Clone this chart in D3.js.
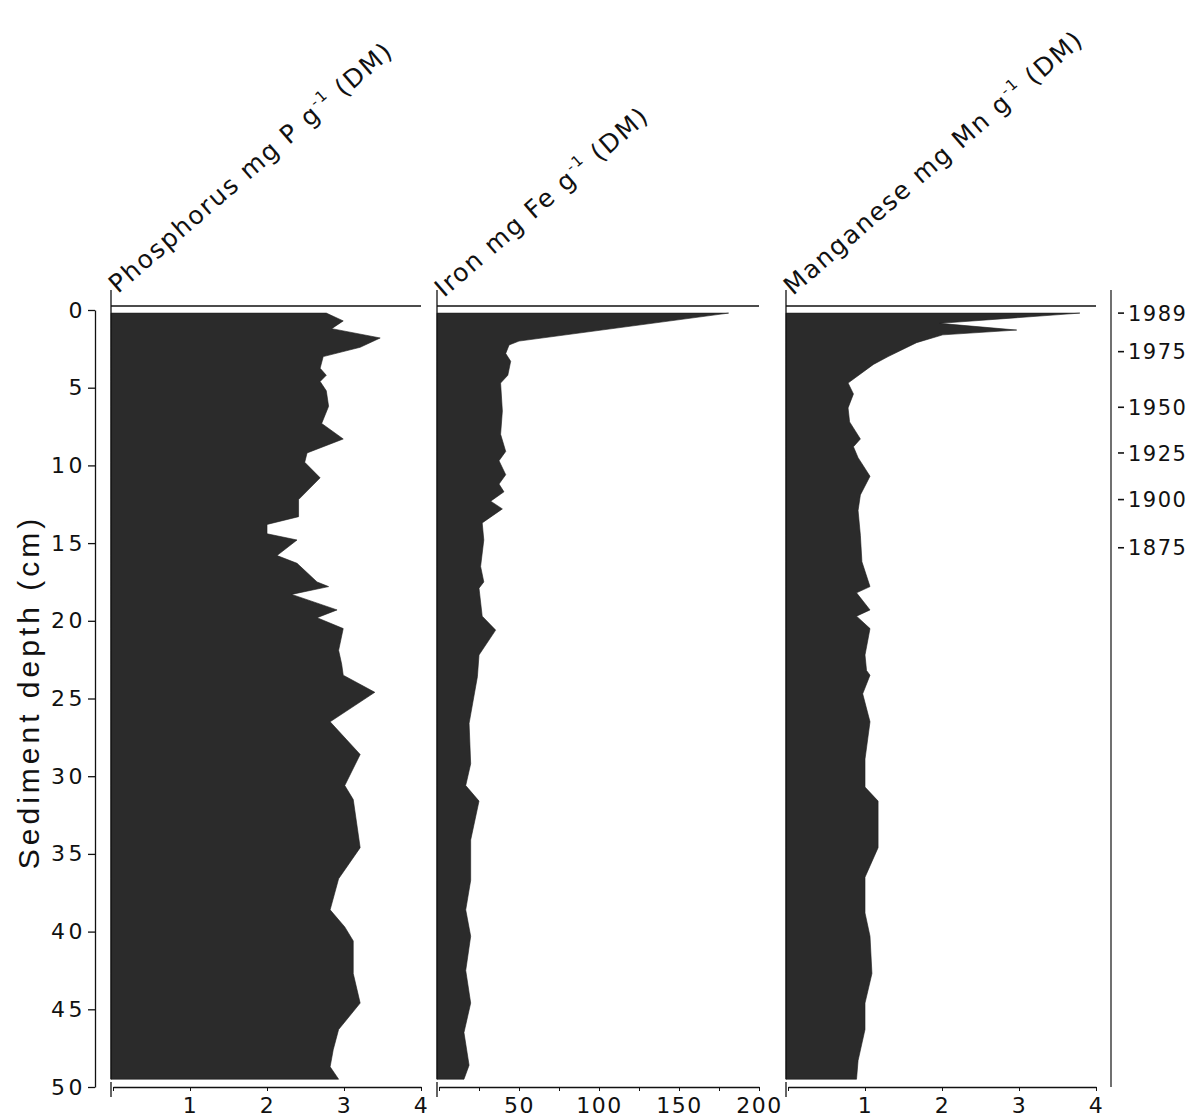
<!DOCTYPE html>
<html>
<head>
<meta charset="utf-8">
<script src="https://cdnjs.cloudflare.com/ajax/libs/d3/7.8.5/d3.min.js"></script>
<style>
  body { margin: 0; background: #fff; }
  svg { display: block; }
  .tick text { font-family: "DejaVu Sans", sans-serif; fill: #111; }
</style>
</head>
<body>
<div id="chart"></div>
<script>
const pDepth = [0.2, 0.7, 1.2, 1.8, 2.4, 3.0, 3.75, 4.2, 4.6, 5.2, 6.2, 7.3, 8.3, 9.2, 9.8, 10.8, 12.2, 13.3, 13.8, 14.4, 14.8, 15.8, 16.3, 17.5, 17.8, 18.3, 19.3, 19.8, 20.5, 21.9, 22.8, 23.5, 24.6, 26.5, 28.6, 30.6, 31.5, 34.6, 36.6, 38.6, 39.7, 40.6, 42.7, 44.6, 46.3, 47.6, 48.7, 49.5];
const pValue = [2.77, 2.99, 2.84, 3.47, 3.21, 2.73, 2.69, 2.77, 2.69, 2.77, 2.80, 2.71, 2.99, 2.52, 2.49, 2.69, 2.41, 2.41, 2.00, 2.00, 2.39, 2.13, 2.39, 2.65, 2.80, 2.32, 2.91, 2.65, 2.99, 2.93, 2.97, 2.99, 3.40, 2.82, 3.21, 3.01, 3.12, 3.21, 2.93, 2.82, 3.01, 3.12, 3.12, 3.21, 2.93, 2.86, 2.82, 2.93];

const feDepth = [0.2, 2.0, 2.25, 2.8, 3.3, 4.2, 4.7, 6.5, 8.0, 9.1, 9.7, 10.6, 11.2, 11.7, 12.3, 12.8, 13.7, 14.8, 16.5, 17.5, 17.9, 19.7, 20.6, 22.2, 23.6, 26.6, 29.2, 30.6, 31.6, 34.1, 36.7, 38.6, 40.3, 42.5, 44.6, 46.5, 48.6, 49.5];
const feValue = [181, 50, 43.8, 41.7, 44.8, 43, 38.5, 39.6, 38.5, 41.7, 37.5, 41.7, 37.5, 40.6, 32.3, 39.6, 27, 28, 26, 28, 25, 27, 35.4, 25, 24, 18.8, 19.8, 16.7, 25, 19.8, 19.8, 16.7, 19.8, 16.7, 19.8, 15.6, 18.8, 15.6];

const mnDepth = [0.2, 0.86, 1.29, 1.6, 2.1, 3.0, 3.5, 4.7, 5.4, 6.3, 7.2, 8.3, 8.8, 9.5, 10.7, 11.9, 12.9, 14.5, 16.2, 17.8, 18.2, 19.3, 19.7, 20.5, 22.2, 23.2, 23.5, 24.7, 26.5, 28.9, 30.7, 31.6, 34.6, 36.5, 38.8, 40.3, 42.7, 44.6, 46.3, 48.3, 49.5];
const mnValue = [3.79, 1.97, 2.97, 2.01, 1.67, 1.3, 1.11, 0.78, 0.85, 0.78, 0.80, 0.94, 0.85, 0.91, 1.065, 0.94, 0.91, 0.94, 0.96, 1.065, 0.89, 1.065, 0.89, 1.065, 1.0, 1.02, 1.065, 0.97, 1.065, 1.0, 1.0, 1.17, 1.17, 1.0, 1.0, 1.065, 1.09, 1.0, 1.0, 0.91, 0.89];

// 연대 눈금 (오른쪽 축)
const dateDepth = [0.2, 2.68, 6.26, 9.2, 12.2, 15.3];
const dateLabel = ["1989", "1975", "1950", "1925", "1900", "1875"];

const depthTicks = d3.range(0, 51, 5);

const panels = [
    { title: "Phosphorus mg P g", depth: pDepth, value: pValue, domain: [0, 4], range: [113, 421],
      ticks: [0, 1, 2, 3, 4], labels: [1, 2, 3, 4], tx: 118, ty: 294 },
    { title: "Iron mg Fe g", depth: feDepth, value: feValue, domain: [0, 200], range: [439, 759],
      ticks: d3.range(0, 201, 25), labels: [50, 100, 150, 200], tx: 444, ty: 298 },
    { title: "Manganese mg Mn g", depth: mnDepth, value: mnValue, domain: [0, 4], range: [788, 1096],
      ticks: [0, 1, 2, 3, 4], labels: [1, 2, 3, 4], tx: 793, ty: 296 }
];

const width = 1196, height = 1120;
const svg = d3.select('#chart').append('svg')
    .attr('width', width)
    .attr('height', height);

// 깊이 축 (공통)
const y = d3.scaleLinear().domain([0, 50]).range([310, 1087]);

const yAxis = svg.append('g')
    .attr('transform', 'translate(95,0)')
    .call(d3.axisLeft(y).tickValues(depthTicks).tickSize(7).tickSizeOuter(0).tickPadding(2));
yAxis.select('.domain').attr('stroke', '#111').attr('stroke-width', 1.3);
yAxis.selectAll('.tick line').attr('stroke', '#111').attr('stroke-width', 1.3);
yAxis.selectAll('.tick text').attr('font-size', 22).attr('letter-spacing', 3.5);

svg.append('text')
    .attr('transform', 'translate(39,692) rotate(-90)')
    .attr('text-anchor', 'middle')
    .attr('font-family', '"Liberation Sans", sans-serif')
    .attr('font-size', 30)
    .attr('letter-spacing', 4)
    .attr('fill', '#111')
    .text('Sediment depth (cm)');

panels.forEach(p => {
    const x = d3.scaleLinear().domain(p.domain).range(p.range);
    const left = x(0) - 2;
    const rows = p.depth.map((d, i) => ({ depth: d, value: p.value[i] }));
    const g = svg.append('g');

    // 채워진 프로파일
    const area = d3.area()
        .y(d => y(d.depth))
        .x0(left)
        .x1(d => x(d.value));
    g.append('path')
        .datum(rows)
        .attr('d', area)
        .attr('fill', '#2b2b2b')
        .attr('stroke', '#1c1c1c')
        .attr('stroke-width', 0.6);

    // 패널 왼쪽 선과 위쪽 선
    g.append('line')
        .attr('x1', left).attr('x2', left)
        .attr('y1', 290).attr('y2', y(49.5))
        .attr('stroke', '#111').attr('stroke-width', 1.3);
    g.append('line')
        .attr('x1', left).attr('x2', x(p.domain[1]))
        .attr('y1', 306).attr('y2', 306)
        .attr('stroke', '#111').attr('stroke-width', 1.3);

    // 아래쪽 축
    const xAxis = g.append('g')
        .attr('transform', `translate(0,${y(50)})`)
        .call(d3.axisBottom(x).tickValues(p.ticks).tickSize(4).tickSizeOuter(0).tickPadding(6)
            .tickFormat(d => p.labels.includes(d) ? d : ''));
    xAxis.select('.domain').attr('stroke', '#111').attr('stroke-width', 1.3);
    xAxis.selectAll('.tick line').attr('stroke', '#111').attr('stroke-width', 1);
    xAxis.selectAll('.tick text').attr('font-size', 22).attr('letter-spacing', 1.5);
    g.append('line')
        .attr('x1', left).attr('x2', left)
        .attr('y1', y(50) - 5).attr('y2', y(50) + 10)
        .attr('stroke', '#111').attr('stroke-width', 1.3);

    // 비스듬한 제목
    const t = g.append('text')
        .attr('transform', `translate(${p.tx},${p.ty}) rotate(-41)`)
        .attr('font-family', '"DejaVu Sans", sans-serif')
        .attr('font-size', 25)
        .attr('letter-spacing', 1.8)
        .attr('fill', '#111');
    t.append('tspan').text(p.title);
    t.append('tspan').attr('dy', -11).attr('font-size', 15).text('-1');
    t.append('tspan').attr('dy', 11).text(' (DM)');
});

// 오른쪽 연대 축
const dateAxis = svg.append('g')
    .attr('transform', 'translate(1111,0)');
dateAxis.append('line')
    .attr('x1', 0).attr('x2', 0)
    .attr('y1', 290).attr('y2', y(50))
    .attr('stroke', '#111').attr('stroke-width', 1.2);
const dt = dateAxis.selectAll('g.date')
    .data(dateDepth)
    .enter()
    .append('g')
    .attr('class', 'date')
    .attr('transform', d => `translate(0,${y(d)})`);
dt.append('line')
    .attr('x1', 7).attr('x2', 13)
    .attr('stroke', '#111').attr('stroke-width', 1.6);
dt.append('text')
    .attr('x', 17)
    .attr('dy', '0.36em')
    .attr('font-family', '"DejaVu Sans", sans-serif')
    .attr('font-size', 21)
    .attr('letter-spacing', 1.5)
    .attr('fill', '#111')
    .text((d, i) => dateLabel[i]);
</script>
</body>
</html>
